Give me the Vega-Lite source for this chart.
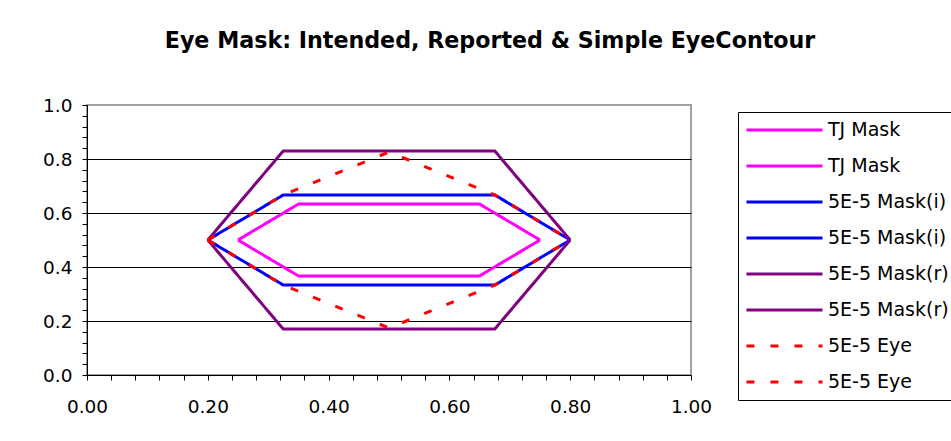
{
  "$schema": "https://vega.github.io/schema/vega-lite/v6.json",
  "width": 604,
  "height": 270,
  "autosize": {"type": "none"},
  "padding": {"left": 87, "top": 105, "right": 260, "bottom": 66},
  "background": "white",
  "title": {
    "text": "Eye Mask: Intended, Reported & Simple EyeContour",
    "font": "DejaVu Sans",
    "fontSize": 22.2,
    "fontWeight": "bold",
    "color": "black",
    "anchor": "middle",
    "dx": 101,
    "offset": 44
  },
  "config": {
    "view": {"stroke": "#A0A0A0", "strokeWidth": 2},
    "axis": {
      "labelFont": "DejaVu Sans",
      "labelFontSize": 18.5,
      "labelColor": "black",
      "domainColor": "black",
      "tickColor": "black",
      "tickSize": 5,
      "title": null
    }
  },
  "data": {
    "values": [
      {"series": "TJ Mask 1", "x": 0.25, "y": 0.5},
      {"series": "TJ Mask 1", "x": 0.35, "y": 0.633},
      {"series": "TJ Mask 1", "x": 0.65, "y": 0.633},
      {"series": "TJ Mask 1", "x": 0.75, "y": 0.5},
      {"series": "TJ Mask 2", "x": 0.25, "y": 0.5},
      {"series": "TJ Mask 2", "x": 0.35, "y": 0.367},
      {"series": "TJ Mask 2", "x": 0.65, "y": 0.367},
      {"series": "TJ Mask 2", "x": 0.75, "y": 0.5},
      {"series": "5E-5 Mask(i) 1", "x": 0.2, "y": 0.5},
      {"series": "5E-5 Mask(i) 1", "x": 0.325, "y": 0.667},
      {"series": "5E-5 Mask(i) 1", "x": 0.675, "y": 0.667},
      {"series": "5E-5 Mask(i) 1", "x": 0.8, "y": 0.5},
      {"series": "5E-5 Mask(i) 2", "x": 0.2, "y": 0.5},
      {"series": "5E-5 Mask(i) 2", "x": 0.325, "y": 0.333},
      {"series": "5E-5 Mask(i) 2", "x": 0.675, "y": 0.333},
      {"series": "5E-5 Mask(i) 2", "x": 0.8, "y": 0.5},
      {"series": "5E-5 Mask(r) 1", "x": 0.2, "y": 0.5},
      {"series": "5E-5 Mask(r) 1", "x": 0.325, "y": 0.83},
      {"series": "5E-5 Mask(r) 1", "x": 0.675, "y": 0.83},
      {"series": "5E-5 Mask(r) 1", "x": 0.8, "y": 0.5},
      {"series": "5E-5 Mask(r) 2", "x": 0.2, "y": 0.5},
      {"series": "5E-5 Mask(r) 2", "x": 0.325, "y": 0.17},
      {"series": "5E-5 Mask(r) 2", "x": 0.675, "y": 0.17},
      {"series": "5E-5 Mask(r) 2", "x": 0.8, "y": 0.5},
      {"series": "5E-5 Eye 1", "x": 0.2, "y": 0.5},
      {"series": "5E-5 Eye 1", "x": 0.325, "y": 0.667},
      {"series": "5E-5 Eye 1", "x": 0.5, "y": 0.826},
      {"series": "5E-5 Eye 1", "x": 0.675, "y": 0.667},
      {"series": "5E-5 Eye 1", "x": 0.8, "y": 0.5},
      {"series": "5E-5 Eye 2", "x": 0.2, "y": 0.5},
      {"series": "5E-5 Eye 2", "x": 0.325, "y": 0.333},
      {"series": "5E-5 Eye 2", "x": 0.5, "y": 0.174},
      {"series": "5E-5 Eye 2", "x": 0.675, "y": 0.333},
      {"series": "5E-5 Eye 2", "x": 0.8, "y": 0.5}
    ]
  },
  "mark": {"type": "line", "strokeWidth": 3, "clip": false},
  "encoding": {
    "x": {
      "field": "x",
      "type": "quantitative",
      "scale": {"domain": [0, 1], "nice": false, "zero": false},
      "axis": {
        "values": [0,0.04,0.08,0.12,0.16,0.2,0.24,0.28,0.32,0.36,0.4,0.44,0.48,0.52,0.56,0.6,0.64,0.68,0.72,0.76,0.8,0.84,0.88,0.92,0.96,1],
        "labelExpr": "abs(datum.value*5 - round(datum.value*5)) < 0.001 ? format(datum.value, '.2f') : ''",
        "grid": false,
        "labelPadding": 17,
        "labelFlush": false,
        "labelOverlap": false
      }
    },
    "y": {
      "field": "y",
      "type": "quantitative",
      "scale": {"domain": [0, 1], "nice": false, "zero": false},
      "axis": {
        "values": [0,0.04,0.08,0.12,0.16,0.2,0.24,0.28,0.32,0.36,0.4,0.44,0.48,0.52,0.56,0.6,0.64,0.68,0.72,0.76,0.8,0.84,0.88,0.92,0.96,1],
        "labelExpr": "abs(datum.value*5 - round(datum.value*5)) < 0.001 ? format(datum.value, '.1f') : ''",
        "grid": true,
        "gridColor": "black",
        "gridWidth": 1,
        "gridOpacity": {"condition": {"test": "abs(datum.value*5 - round(datum.value*5)) < 0.001 && datum.value > 0.01 && datum.value < 0.99", "value": 1}, "value": 0},
        "labelPadding": 10,
        "labelFlush": false,
        "labelOverlap": false
      }
    },
    "color": {
      "field": "series",
      "type": "nominal",
      "scale": {
        "domain": ["TJ Mask 1","TJ Mask 2","5E-5 Mask(i) 1","5E-5 Mask(i) 2","5E-5 Mask(r) 1","5E-5 Mask(r) 2","5E-5 Eye 1","5E-5 Eye 2"],
        "range": ["#FF00FF","#FF00FF","#0000FF","#0000FF","#800080","#800080","#FF0000","#FF0000"]
      },
      "legend": {
        "orient": "none",
        "legendX": 651,
        "legendY": 7,
        "title": null,
        "strokeColor": "black",
        "fillColor": "white",
        "padding": 7,
        "symbolType": "stroke",
        "symbolSize": 5776,
        "symbolStrokeWidth": 3,
        "clipHeight": 22,
        "labelFont": "DejaVu Sans",
        "labelFontSize": 19,
        "labelColor": "black",
        "labelOffset": 4,
        "labelLimit": 300,
        "rowPadding": 14,
        "labelExpr": "slice(datum.label, 0, length(datum.label) - 2)"
      }
    },
    "strokeDash": {
      "field": "series",
      "type": "nominal",
      "scale": {
        "domain": ["TJ Mask 1","TJ Mask 2","5E-5 Mask(i) 1","5E-5 Mask(i) 2","5E-5 Mask(r) 1","5E-5 Mask(r) 2","5E-5 Eye 1","5E-5 Eye 2"],
        "range": [[1,0],[1,0],[1,0],[1,0],[1,0],[1,0],[8,16],[8,16]]
      }
    }
  }
}
